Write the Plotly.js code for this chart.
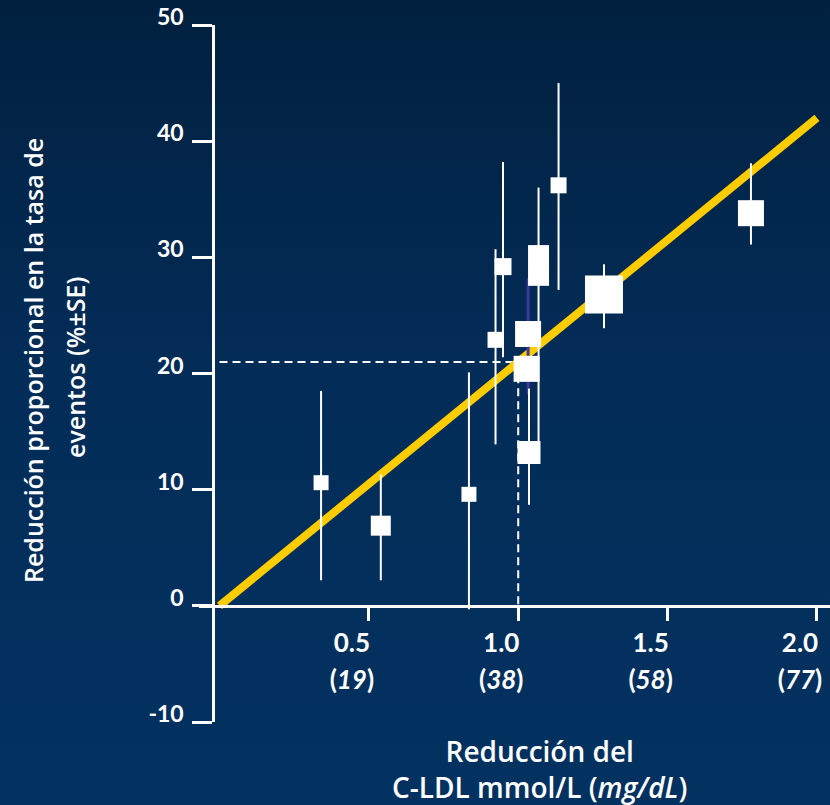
<!DOCTYPE html>
<html>
<head>
<meta charset="utf-8">
<script src="https://cdn.plot.ly/plotly-3.0.1.min.js"></script>
<style>
  html, body { margin: 0; padding: 0; }
  body {
    width: 830px; height: 805px; overflow: hidden;
    background: linear-gradient(to bottom, #01203f 0%, #032c57 45%, #033261 100%);
  }
  #chart { width: 830px; height: 805px; }
</style>
</head>
<body>
<div id="chart"></div>
<script>
// LDL-cholesterol reduction (mmol/L) achieved in each trial
const ldlReduction = [0.34, 0.54, 0.835, 0.924, 0.949, 1.033, 1.028, 1.036, 1.068, 1.068, 1.135, 1.287, 1.779];
// Proportional reduction in event rate (%)
const eventReduction = [10.6, 6.9, 9.6, 22.9, 29.2, 23.4, 20.4, 13.2, 30.15, 28.45, 36.2, 26.8, 33.8];
// Standard-error bars above / below each estimate
const seUpper = [7.9, 4.4, 10.5, 7.8, 9.0, 0, 0, 5.5, 5.85, 0, 8.8, 2.6, 4.3];
const seLower = [8.4, 4.7, 9.9, 9.0, 7.8, 0, 0, 4.5, 0, 14.35, 9.0, 2.9, 2.7];

// Trial whose error bar is drawn in blue
const highlightIndex = [5];
const highlightUpper = [4.8];
const highlightLower = [5.2];

// Regression line through the origin
const trendX = [0, 2.0];
const trendY = [0, 42];

// Reference reading at 1 mmol/L
const guideX = 1.0;

// Axis ticks
const xTickVals = [0.5, 1.0, 1.5, 2.0];
const mgdlLabels = ['19', '38', '58', '77'];
const yTickVals = [-10, 0, 10, 20, 30, 40, 50];

// Axis titles
const xTitle = 'Reducción del<br>C-LDL mmol/L (<i>mg/dL</i>)';
const yTitleLines = ['Reducción proporcional en la tasa de', 'eventos (%±SE)'];

// ---- styling ----
const boxPx = [15, 20, 15, 16, 17, 26, 26, 23, 21, 21, 16, 38, 26];
const FONT = 'Lato, "Open Sans", sans-serif';
const TITLE_FONT = '"Open Sans", Lato, sans-serif';
const WHITE = '#ffffff';
const xRange = [-0.0686, 2.0436];
const yRange = [-10, 50];

const guideY = trendY[0] + (trendY[1] - trendY[0]) * (guideX - trendX[0]) / (trendX[1] - trendX[0]);

const span = s => '<span style="font-size:26px">' + s + '</span>';
const xTickText = xTickVals.map((v, i) => span(v.toFixed(1)) + '<br>' + span('(<i>' + mgdlLabels[i] + '</i>)'));
const yTickText = yTickVals.map(v => String(v));

const traces = [
  {
    type: 'scatter', mode: 'lines', hoverinfo: 'skip',
    x: [trendX[0], guideX, guideX], y: [guideY, guideY, 0],
    line: { color: WHITE, width: 2, dash: '8px,5px' }
  },
  {
    type: 'scatter', mode: 'lines', hoverinfo: 'skip',
    x: trendX, y: trendY,
    line: { color: '#ffcc00', width: 8 }
  },
  {
    type: 'scatter', mode: 'markers', hoverinfo: 'skip',
    x: highlightIndex.map(i => ldlReduction[i]),
    y: highlightIndex.map(i => eventReduction[i]),
    marker: { size: 1, opacity: 0 },
    error_y: { type: 'data', symmetric: false, array: highlightUpper, arrayminus: highlightLower,
               color: '#3a3aa6', thickness: 3, width: 0 }
  },
  {
    type: 'scatter', mode: 'markers',
    x: ldlReduction, y: eventReduction,
    marker: { symbol: 'square', size: boxPx, color: WHITE, opacity: 1, line: { width: 0 } },
    error_y: { type: 'data', symmetric: false, array: seUpper, arrayminus: seLower,
               color: WHITE, thickness: 2, width: 0 }
  }
];

const layout = {
  width: 830, height: 805,
  margin: { l: 199, r: 0, t: 25, b: 83, pad: 0 },
  paper_bgcolor: 'rgba(0,0,0,0)',
  plot_bgcolor: 'rgba(0,0,0,0)',
  showlegend: false,
  font: { family: FONT, color: WHITE },
  xaxis: {
    range: xRange, anchor: 'free',
    position: (0 - yRange[0]) / (yRange[1] - yRange[0]),
    showline: true, linecolor: WHITE, linewidth: 3,
    ticks: 'outside', ticklen: 13, tickwidth: 3, tickcolor: WHITE,
    tickvals: xTickVals, ticktext: xTickText,
    tickfont: { family: FONT, size: 29, color: WHITE, weight: 700 },
    ticklabelshift: -17, ticklabelstandoff: -4,
    ticklabeloverflow: 'allow',
    showgrid: false, zeroline: false
  },
  yaxis: {
    range: yRange, anchor: 'free',
    position: (213.3 - 199) / 631,
    showline: true, linecolor: WHITE, linewidth: 3,
    ticks: 'outside', ticklen: 20, tickwidth: 3, tickcolor: WHITE,
    tickvals: yTickVals, ticktext: yTickText,
    tickfont: { family: FONT, size: 23, color: WHITE, weight: 700 },
    ticklabelshift: -8, ticklabelstandoff: 4,
    ticklabeloverflow: 'allow',
    showgrid: false, zeroline: false
  },
  annotations: [
    {
      xref: 'paper', yref: 'paper', x: 0.54, y: -0.068,
      xanchor: 'center', yanchor: 'middle', showarrow: false,
      text: xTitle,
      font: { family: TITLE_FONT, size: 28, color: WHITE, weight: 600 }
    },
    {
      xref: 'paper', yref: 'paper', x: -0.263, y: 0.518,
      xanchor: 'center', yanchor: 'middle', showarrow: false, textangle: -90,
      text: yTitleLines[0],
      font: { family: TITLE_FONT, size: 25, color: WHITE, weight: 600 }
    },
    {
      xref: 'paper', yref: 'paper', x: -0.1965, y: 0.508,
      xanchor: 'center', yanchor: 'middle', showarrow: false, textangle: -90,
      text: yTitleLines[1],
      font: { family: TITLE_FONT, size: 25, color: WHITE, weight: 600 }
    }
  ]
};

Plotly.newPlot('chart', traces, layout, { displayModeBar: false, staticPlot: true });
</script>
</body>
</html>
